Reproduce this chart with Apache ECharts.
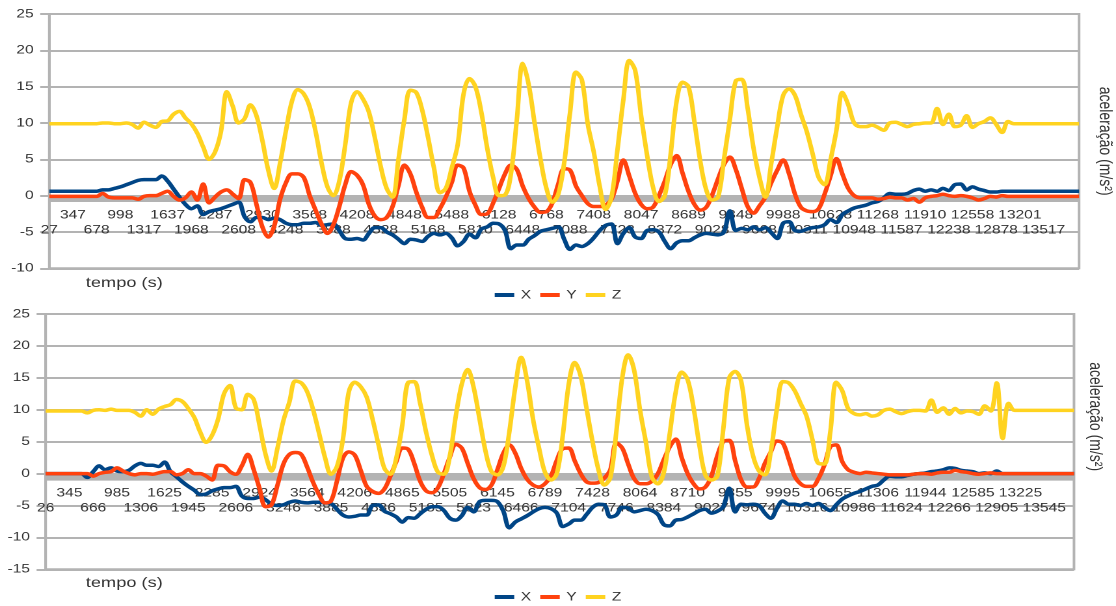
<!DOCTYPE html>
<html>
<head>
<meta charset="utf-8">
<script src="https://cdn.jsdelivr.net/npm/echarts@6/dist/echarts.min.js"></script>
<style>
  html, body { margin: 0; padding: 0; background: #fff; overflow: hidden; }
  #wrap { width: 1116px; height: 606px; overflow: hidden; }
  /* the chart is laid out narrow and widened horizontally */
  #chart { width: 858px; height: 606px; transform: scaleX(1.3007); transform-origin: 0 0; }
</style>
</head>
<body>
<div id="wrap"><div id="chart"></div></div>
<script>
// ---- upper chart: tick labels (one every 4 samples) and accelerations ----
const topTicks = [27, 347, 678, 998, 1317, 1637, 1968, 2287, 2608, 2930, 3248, 3568, 3888, 4208, 4528,
  4848, 5168, 5488, 5810, 6128, 6448, 6768, 7088, 7408, 7728, 8047, 8372, 8689, 9028, 9348, 9668,
  9988, 10311, 10628, 10948, 11268, 11587, 11910, 12238, 12558, 12878, 13201, 13517, 13837];

const topX = [0.6,0.6,0.6,0.6,0.6,0.6,0.6,0.6,0.6,
  0.8,0.8,1.0,1.2,1.5,1.8,2.1,2.2,2.2,2.2,
  2.7,2.0,0.9,-0.2,-1.2,-1.8,-1.4,-2.6,-2.2,-2.0,
  -1.8,-1.5,-1.2,-0.9,-2.9,-3.6,-3.0,-3.0,-3.3,-3.1,
  -3.3,-3.8,-4.0,-4.0,-3.8,-3.8,-3.7,-4.1,-4.0,-3.9,
  -4.8,-5.9,-6.0,-5.9,-6.1,-5.2,-4.4,-4.4,-5.0,-5.4,
  -6.0,-6.6,-6.0,-6.1,-6.3,-5.6,-5.2,-5.4,-5.2,-5.8,
  -6.9,-6.3,-5.3,-5.8,-4.6,-4.3,-3.8,-3.9,-4.8,-7.3,
  -6.8,-6.8,-6.0,-5.5,-4.9,-4.7,-4.5,-4.3,-6.0,-7.4,
  -6.8,-7.0,-6.6,-5.8,-4.8,-4.1,-3.9,-6.6,-5.2,-4.4,
  -5.7,-5.9,-4.8,-4.7,-5.0,-6.3,-7.3,-6.5,-6.2,-6.2,
  -5.8,-5.4,-5.2,-5.3,-5.4,-5.0,-2.1,-4.8,-4.5,-4.7,
  -4.3,-4.7,-4.4,-5.1,-5.9,-3.8,-3.6,-4.8,-4.9,-4.6,
  -4.4,-4.3,-4.0,-3.3,-3.7,-2.6,-2.1,-1.7,-1.5,-1.3,
  -1.0,-0.8,-0.3,0.3,0.2,0.2,0.3,0.7,0.9,0.6,
  0.8,0.6,1.0,0.7,1.5,1.6,0.8,1.2,0.9,0.7,
  0.5,0.5,
  0.6,0.6,0.6,0.6,0.6,0.6,0.6,0.6,0.6,0.6,0.6,0.6,0.6,0.6];

const topY = [-0.1,-0.1,-0.1,-0.1,-0.1,-0.1,-0.1,-0.1,-0.1,
  0.3,-0.2,-0.3,-0.3,-0.3,-0.3,-0.5,-0.1,0.0,0.0,
  0.3,0.6,-0.1,-0.6,-0.3,0.5,-0.6,1.6,-1.0,-0.2,
  0.5,0.8,0.2,-0.4,2.2,1.8,-1.2,-4.3,-5.7,-4.2,
  -0.5,1.8,3.0,3.0,2.5,0.0,-2.0,-3.9,-5.2,-4.0,
  -1.5,1.5,3.3,2.8,1.5,-1.2,-2.8,-3.3,-3.0,-1.5,
  1.4,4.2,3.0,0.5,-1.6,-3.0,-3.0,-1.8,-0.2,1.8,
  4.2,3.8,0.6,-1.3,-2.6,-2.5,-1.0,1.0,3.0,4.2,
  3.6,1.3,-0.4,-1.6,-2.3,-2.2,-1.0,1.6,3.7,3.5,
  1.3,0.0,-1.1,-1.5,-1.5,-1.3,-0.5,2.0,4.9,2.7,
  0.3,-1.2,-1.8,-1.6,0.0,2.0,4.3,5.5,3.1,0.6,
  -1.2,-2.0,-1.6,0.1,2.3,4.3,5.3,3.6,1.0,-1.5,
  -2.4,-1.4,-0.2,1.8,3.5,4.9,3.0,0.2,-1.6,-2.1,
  -2.2,-1.8,0.2,2.7,5.1,3.0,1.0,0.0,-0.3,-0.3,
  -0.3,-0.5,-0.4,-0.2,-0.3,-0.3,-0.6,-0.4,-0.9,-0.3,
  -0.1,0.0,0.2,0.0,-0.1,0.0,-0.1,-0.3,-0.6,-0.4,
  -0.1,-0.2,0.0,
  -0.1,-0.1,-0.1,-0.1,-0.1,-0.1,-0.1,-0.1,-0.1,-0.1,-0.1,-0.1,-0.1];

const topZ = [9.9,9.9,9.9,9.9,9.9,9.9,9.9,9.9,9.9,
  10.0,10.0,9.9,9.9,10.0,9.8,9.3,10.1,9.7,9.4,
  10.2,10.3,11.2,11.6,10.7,9.9,8.6,6.7,5.0,6.0,
  8.8,14.3,12.3,10.0,10.6,12.5,11.0,7.6,3.5,1.0,
  4.5,9.0,13.0,14.6,14.0,12.2,8.8,4.5,1.2,0.0,
  2.0,7.0,12.8,14.3,13.3,11.5,8.0,4.0,1.0,-0.2,
  5.0,10.5,14.5,14.2,11.8,8.0,3.8,0.4,1.0,3.8,
  7.0,14.0,16.1,15.0,11.5,6.5,2.5,0.0,0.1,3.0,
  10.5,18.2,15.3,10.0,5.0,1.0,-0.9,0.2,4.5,11.5,
  17.0,15.9,9.8,6.0,1.3,-1.9,-0.2,6.3,13.2,18.6,
  17.2,11.0,5.6,1.2,-0.8,0.0,5.8,13.0,15.6,15.0,
  10.2,4.7,0.8,-0.6,-0.2,5.0,10.5,15.8,16.0,12.0,
  6.5,2.5,-0.2,4.5,9.5,13.8,14.7,13.8,11.2,8.8,
  5.7,2.5,1.5,4.9,9.0,14.2,12.5,10.0,9.5,9.5,
  9.7,9.4,9.0,10.0,10.1,9.8,9.5,9.8,9.9,10.0,
  10.0,12.0,9.8,11.2,9.5,9.7,11.0,9.4,9.9,10.2,
  10.7,9.8,8.7,10.2,9.9,
  9.9,9.9,9.9,9.9,9.9,9.9,9.9,9.9,9.9,9.9,9.9];

// ---- lower chart ----
const bottomTicks = [26, 345, 666, 985, 1306, 1625, 1945, 2285, 2606, 2924, 3246, 3564, 3885, 4206, 4536,
  4865, 5185, 5505, 5823, 6145, 6466, 6789, 7104, 7428, 7746, 8064, 8384, 8710, 9027, 9355, 9674,
  9995, 10316, 10655, 10986, 11306, 11624, 11944, 12266, 12585, 12905, 13225, 13545, 13865];

const bottomX = [0.0,0.0,0.0,0.0,0.0,0.0,0.0,
  -0.6,0.3,1.2,0.6,0.9,0.4,0.3,0.5,1.2,1.6,
  1.3,1.3,1.1,1.8,0.3,-0.5,-1.3,-2.0,-2.6,-3.3,
  -3.2,-2.7,-2.4,-2.2,-2.2,-2.0,-3.5,-3.9,-3.9,-3.7,
  -4.1,-4.8,-5.0,-4.9,-4.5,-4.3,-4.5,-4.6,-4.5,-4.5,
  -4.6,-4.7,-5.6,-6.5,-6.8,-6.7,-6.5,-6.5,-5.0,-4.9,
  -5.9,-6.3,-6.8,-7.6,-6.9,-7.0,-6.3,-5.6,-5.2,-5.2,
  -5.8,-7.0,-7.3,-6.6,-5.3,-6.0,-4.4,-4.2,-4.2,-4.4,
  -5.9,-8.5,-7.6,-7.1,-6.6,-6.0,-5.5,-5.3,-5.5,-6.2,
  -8.3,-7.9,-7.3,-7.3,-6.4,-5.3,-4.8,-4.9,-6.8,-6.5,
  -5.3,-5.4,-6.0,-5.8,-5.6,-5.8,-6.4,-8.0,-8.2,-7.3,
  -7.2,-6.8,-6.3,-5.8,-5.6,-6.2,-5.9,-5.2,-2.3,-6.0,
  -4.8,-4.9,-4.8,-5.0,-6.2,-7.0,-5.5,-4.3,-4.8,-4.8,
  -5.0,-4.7,-5.0,-4.7,-5.3,-5.8,-4.9,-4.0,-3.5,-3.1,
  -2.8,-2.4,-2.0,-1.8,-1.0,-0.4,-0.5,-0.5,-0.3,-0.1,
  0.0,0.1,0.3,0.4,0.6,0.9,0.8,0.5,0.4,0.3,
  0.0,0.1,0.0,0.4,
  0.0,0.0,0.0,0.0,0.0,0.0,0.0,0.0,0.0,0.0,0.0,0.0,0.0];

const bottomY = [0.0,0.0,0.0,0.0,0.0,0.0,0.0,
  0.0,-0.4,0.0,0.2,0.3,0.9,0.4,0.0,-0.2,0.0,
  0.0,-0.1,0.1,0.3,0.3,-0.2,0.0,0.6,0.0,0.0,
  -0.4,-1.0,1.3,1.2,0.3,-0.1,1.2,3.0,0.6,-2.4,
  -5.2,-4.9,-1.8,1.5,3.0,3.3,3.0,1.0,-1.4,-3.3,
  -4.6,-4.3,-1.2,2.4,3.4,2.9,0.5,-2.0,-2.8,-3.1,
  -2.4,-0.4,1.9,4.0,3.8,1.6,-1.2,-2.7,-3.0,-2.2,
  0.0,2.6,4.6,4.0,1.6,-0.8,-2.2,-2.5,-1.8,0.6,
  3.2,4.5,3.2,0.8,-0.9,-1.8,-2.1,-1.6,-0.4,2.1,
  3.9,4.0,2.0,0.0,-1.3,-1.5,-1.4,-0.7,0.6,4.8,
  4.0,1.5,-0.8,-1.6,-1.6,-1.2,0.0,2.2,4.2,5.4,
  2.5,0.0,-1.6,-2.4,-2.1,-0.4,2.8,5.0,5.2,2.0,
  -1.0,-2.1,-2.1,-0.8,1.6,3.4,5.1,4.8,2.3,-0.4,
  -1.6,-2.0,-2.0,-0.8,1.3,4.2,4.5,1.9,0.6,0.2,
  0.0,0.2,0.1,0.0,-0.1,-0.2,-0.2,-0.2,-0.2,-0.1,
  0.0,0.0,-0.1,0.1,0.2,0.2,0.5,0.3,0.2,0.0,
  -0.1,0.0,0.1,0.0,
  0.0,0.0,0.0,0.0,0.0,0.0,0.0,0.0,0.0,0.0,0.0,0.0,0.0];

const bottomZ = [9.8,9.8,9.8,9.8,9.8,9.8,9.8,
  9.5,9.9,10.0,9.9,10.1,9.9,9.9,9.9,9.6,9.0,
  10.0,9.3,10.1,10.5,10.8,11.6,11.3,10.2,8.8,6.5,
  4.9,6.0,8.5,12.5,13.8,10.3,10.0,12.4,11.6,7.5,
  3.0,0.4,4.0,8.3,11.2,14.5,14.2,12.8,10.0,6.3,
  2.5,-0.1,1.1,5.3,12.8,14.3,13.6,12.0,8.5,4.5,
  0.8,-0.1,2.5,7.6,14.3,14.4,11.0,6.5,2.8,0.2,
  -0.1,2.8,9.0,14.0,16.3,13.5,8.5,3.5,0.3,-0.2,
  1.1,6.5,13.5,18.2,14.5,8.5,4.0,0.2,-1.0,0.0,
  6.0,14.0,17.4,15.3,10.2,5.0,0.6,-1.8,-0.6,6.5,
  15.0,18.6,16.2,9.9,4.8,-0.6,-1.6,0.2,6.3,12.8,
  15.9,14.7,10.3,4.3,-0.3,-1.0,-0.4,7.0,15.0,16.0,
  14.5,7.5,2.8,0.4,-0.2,3.5,10.0,14.4,14.2,13.0,
  11.0,9.0,5.3,1.6,1.5,6.5,14.3,13.0,10.2,9.4,
  9.2,9.4,9.0,9.2,9.9,10.1,9.7,9.4,9.7,9.9,
  9.9,9.8,11.5,9.6,10.3,9.3,10.2,9.5,9.8,9.7,
  9.3,10.6,9.8,14.2,5.5,11.0,9.9,
  9.9,9.9,9.9,9.9,9.9,9.9,9.9,9.9,9.9,9.9];

const seriesNames = ['X', 'Y', 'Z'];
const axisTitle = 'aceleração (m/s²)';
const timeTitle = 'tempo (s)';

// ---- styling ----
const FONT = '"Liberation Sans", Arial, sans-serif';
const TEXT = '#333333';
const GRID = '#b3b3b3';
const COLORS = ['#004586', '#ff420e', '#ffd320'];
const PER_TICK = 4;   // samples between two labelled ticks
const Y_MAX = 25;

// plot boxes of the two panels
const PANELS = [
  { left: 37.9, right: 28.4, top: 14, height: 254.3, yMin: -10, band: -0.87, nameGap: 13, nameShift: 0, legendTop: 284, titleTop: 276 },
  { left: 35.1, right: 32.3, top: 314, height: 255.3, yMin: -15, band: -1.1, nameGap: 9, nameShift: 50, legendTop: 586, titleTop: 576 }
];

// category names: a tick label on every PER_TICK-th sample, blanks between
function categories(ticks, count) {
  const out = [];
  for (let i = 0; i < count; i++) {
    const k = i / PER_TICK;
    out.push(i % PER_TICK === 0 && k < ticks.length ? String(ticks[k]) : '');
  }
  return out;
}

// the time axis sits on the zero line of the value axis
function xAxis(gi, cats) {
  const p = PANELS[gi];
  const zeroFromBottom = p.height * (0 - p.yMin) / (Y_MAX - p.yMin);
  return {
    type: 'category', gridIndex: gi, data: cats, boundaryGap: false,
    position: 'bottom', offset: -zeroFromBottom,
    axisLine: { show: false, onZero: false },
    axisTick: { show: false },
    splitLine: { show: false },
    axisLabel: {
      interval: PER_TICK - 1, margin: 12, color: TEXT, fontSize: 12, lineHeight: 15,
      fontFamily: FONT, hideOverlap: false,
      // alternate labels drop to a second row
      formatter: (v, i) => ((i / PER_TICK) % 2 === 0 ? '\n' + v : v)
    }
  };
}

function yAxis(gi) {
  return {
    type: 'value', gridIndex: gi, min: PANELS[gi].yMin, max: Y_MAX, interval: 5,
    axisLine: { show: true, lineStyle: { color: GRID, width: 2 } },
    axisTick: { show: true, length: 7, lineStyle: { color: GRID, width: 2 } },
    axisLabel: { margin: 12, color: TEXT, fontSize: 12, fontFamily: FONT },
    splitLine: { show: true, lineStyle: { color: GRID, width: 2 } }
  };
}

function nameAxis(gi) {
  const p = PANELS[gi];
  return {
    type: 'value', gridIndex: gi, position: 'right', min: p.yMin, max: Y_MAX,
    name: axisTitle, nameLocation: 'middle', nameRotate: -90, nameGap: p.nameGap,
    nameTextStyle: { color: TEXT, fontSize: 14, fontFamily: FONT, padding: [0, p.nameShift, 0, 0] },
    axisLine: { show: false }, axisTick: { show: false },
    axisLabel: { show: false }, splitLine: { show: false }
  };
}

function series(gi, values) {
  return values.map((data, k) => {
    const s = {
      name: seriesNames[k], type: 'line', xAxisIndex: gi, yAxisIndex: gi,
      data, symbol: 'none', smooth: 0.35, silent: true,
      lineStyle: { color: COLORS[k], width: 3.5 },
      itemStyle: { color: COLORS[k] },
      emphasis: { disabled: true }
    };
    if (k === 0) {
      // thick grey axis band just under the zero line
      s.markArea = {
        silent: true, label: { show: false },
        itemStyle: { color: GRID, opacity: 1 },
        data: [[{ yAxis: 0 }, { yAxis: PANELS[gi].band }]]
      };
    }
    return s;
  });
}

function legend(gi) {
  return {
    top: PANELS[gi].legendTop, left: 'center', data: seriesNames, icon: 'rect',
    itemWidth: 15, itemHeight: 4, itemGap: 7,
    textStyle: { color: TEXT, fontSize: 12, fontFamily: FONT },
    selectedMode: false
  };
}

function title(gi) {
  return {
    text: timeTitle, left: 66, top: PANELS[gi].titleTop, padding: 0,
    textStyle: { color: TEXT, fontSize: 14, fontWeight: 'normal', fontFamily: FONT, lineHeight: 14 }
  };
}

function grid(gi) {
  const p = PANELS[gi];
  return { left: p.left, right: p.right, top: p.top, height: p.height, show: true,
    borderColor: GRID, borderWidth: 2, containLabel: false, outerBoundsMode: 'none' };
}

const chart = echarts.init(document.getElementById('chart'), null, { renderer: 'canvas', devicePixelRatio: 2 });
chart.setOption({
  animation: false,
  backgroundColor: '#ffffff',
  title: [title(0), title(1)],
  legend: [legend(0), legend(1)],
  grid: [grid(0), grid(1)],
  xAxis: [
    xAxis(0, categories(topTicks, topZ.length)),
    xAxis(1, categories(bottomTicks, bottomZ.length))
  ],
  yAxis: [yAxis(0), yAxis(1), nameAxis(0), nameAxis(1)],
  series: [
    ...series(0, [topX, topY, topZ]),
    ...series(1, [bottomX, bottomY, bottomZ])
  ]
});
</script>
</body>
</html>
